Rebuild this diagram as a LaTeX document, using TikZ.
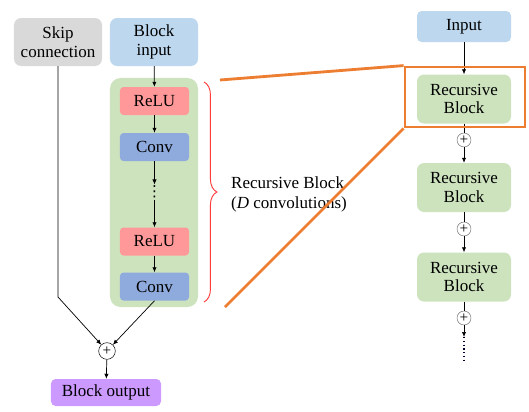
\documentclass[tikz,border=0pt]{standalone}
\usepackage{fontspec}
\setmainfont{Liberation Serif}
\newfontfamily\symfont{DejaVu Sans}
\usepackage{tikz}
\usetikzlibrary{arrows.meta,positioning,decorations.pathreplacing}
\definecolor{skipgray}{HTML}{D9D9D9}
\definecolor{inblue}{HTML}{BDD7EE}
\definecolor{rbgreen}{HTML}{CDE3BE}
\definecolor{relured}{HTML}{FF9999}
\definecolor{convblue}{HTML}{8FAADC}
\definecolor{outpurple}{HTML}{CC99FF}
\definecolor{zoomorange}{HTML}{ED7D31}
\definecolor{bracered}{HTML}{FF3B3B}

\begin{document}
\begin{tikzpicture}[x=0.03cm, y=-0.03cm,
  box/.style={rounded corners=6pt, minimum width=2.64cm, minimum height=1.44cm, align=center, inner sep=1pt, font=\fontsize{14.5}{16}\selectfont},
  layer/.style={rounded corners=3pt, minimum width=2.07cm, minimum height=0.84cm, inner sep=1pt, font=\fontsize{14.5}{16}\selectfont},
  rbox/.style={box, fill=rbgreen, minimum width=2.82cm, minimum height=1.47cm},
  sum/.style={circle, draw, inner sep=0pt, minimum size=0.5cm, font=\fontsize{13}{13}\selectfont},
  sumr/.style={sum, draw=black!60, minimum size=0.42cm},
  arrow/.style={-{Latex[length=1.5mm,width=1.3mm]}, line width=0.6pt},
  zoomline/.style={draw=zoomorange, line width=2.4pt}
]
\useasboundingbox (0,0) rectangle (529,411);

% left: one recursive block
\node[box, fill=skipgray] (skip) at (58,42) {Skip\\connection};
\node[box, fill=inblue] (bin) at (154,42) {Block\\input};
\node[rounded corners=9pt, fill=rbgreen, minimum width=2.64cm, minimum height=6.87cm] (rb) at (154,192.5) {};
\node[layer, fill=relured] (relua) at (154.5,101) {ReLU};
\node[layer, fill=convblue] (conva) at (154.5,147) {Conv};
\node[inner sep=1pt, font=\symfont\fontsize{13}{14}\selectfont] (dots) at (154.5,192) {⋮};
\node[layer, fill=relured] (relub) at (154.5,241.5) {ReLU};
\node[layer, fill=convblue] (convb) at (154.5,286.5) {Conv};
\node[sum] (suma) at (107,351) {+};
\node[box, fill=outpurple, minimum width=3.3cm, minimum height=0.81cm, rounded corners=4pt] (bout) at (106,392.5) {Block output};
\coordinate (bend) at (58,297);

\draw[arrow] (bin) -- (relua);
\draw[arrow] (relua) -- (conva);
\draw[arrow] (conva) -- (dots);
\draw[arrow] (dots) -- (relub);
\draw[arrow] (relub) -- (convb);
\draw[arrow] (skip.south) -- (bend) -- (suma);
\draw[arrow] (convb.south) -- (suma);
\draw[arrow] (suma) -- (bout);

% brace and label
\coordinate (bt) at (204,82);
\coordinate (bb) at (204,302);
\draw[bracered, line width=0.8pt, decorate, decoration={brace, amplitude=11pt}] (bt) -- (bb);
\node[anchor=west, align=left, inner sep=0pt, font=\fontsize{14.5}{17}\selectfont] (rblabel) at (231,194) {Recursive Block\\(\textit{D} convolutions)};

% right: chain of recursive blocks
\node[box, fill=inblue, minimum width=2.82cm, minimum height=0.93cm, rounded corners=4pt] (inp) at (464,26.5) {Input};
\node[rbox] (rba) at (464,99) {Recursive\\Block};
\node[sumr] (sa) at (464,140) {+};
\node[rbox] (rbb) at (464,187.5) {Recursive\\Block};
\node[sumr] (sb) at (464,229) {+};
\node[rbox] (rbc) at (464,277) {Recursive\\Block};
\node[sumr] (sc) at (464,318) {+};
\coordinate (tail) at (464,337);
\coordinate (tailend) at (464,360);

\draw[arrow] (inp) -- (rba);
\draw (rba) -- (sa);
\draw[arrow] (sa) -- (rbb);
\draw (rbb) -- (sb);
\draw[arrow] (sb) -- (rbc);
\draw (rbc) -- (sc);
\draw[arrow] (sc) -- (tail);
\draw[dotted, line width=1.2pt, black!80!blue] (tail) -- (tailend);

% zoom frame
\node[draw=zoomorange, line width=2.4pt, minimum width=3.6cm, minimum height=1.8cm, inner sep=0pt] (zoom) at (465,97) {};
\coordinate (za) at (220,80);
\coordinate (zb) at (225,307);
\draw[zoomline] (za) -- (zoom.north west);
\draw[zoomline] (zb) -- (zoom.south west);
\end{tikzpicture}
\end{document}
